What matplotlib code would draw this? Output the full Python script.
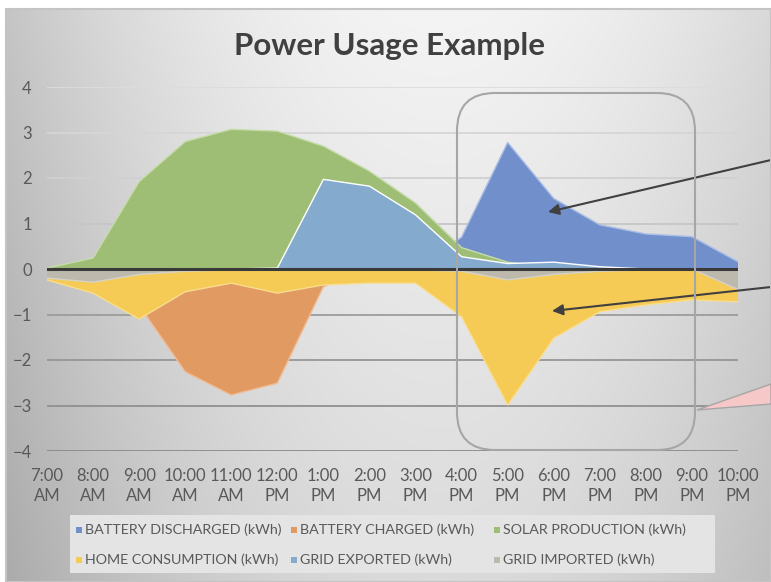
import numpy as np
import matplotlib
matplotlib.use("Agg")
import matplotlib.pyplot as plt
from matplotlib.patches import FancyBboxPatch, Polygon, Rectangle
from matplotlib.transforms import IdentityTransform

plt.rcParams['font.family'] = ['Lato', 'DejaVu Sans']

hours = ["7:00\nAM", "8:00\nAM", "9:00\nAM", "10:00\nAM", "11:00\nAM", "12:00\nPM",
         "1:00\nPM", "2:00\nPM", "3:00\nPM", "4:00\nPM", "5:00\nPM", "6:00\nPM",
         "7:00\nPM", "8:00\nPM", "9:00\nPM", "10:00\nPM"]

battery_discharged = [0, 0, 0, 0, 0, 0, 0, 0, 0, 0.7, 2.78, 1.55, 0.97, 0.77, 0.71, 0.16]
battery_charged = [0, 0, -0.8, -2.26, -2.77, -2.51, -0.39, 0, 0, 0, 0, 0, 0, 0, 0, 0]
solar_production = [0.02, 0.24, 1.92, 2.8, 3.07, 3.03, 2.7, 2.15, 1.45, 0.47, 0.15, 0.02, 0, 0, 0, 0]
home_consumption = [-0.24, -0.53, -1.1, -0.5, -0.31, -0.53, -0.35, -0.31, -0.31, -1.05, -2.99,
                    -1.52, -0.94, -0.79, -0.68, -0.72]
grid_exported = [0, 0, 0, 0, 0, 0.02, 1.97, 1.82, 1.19, 0.27, 0.12, 0.15, 0.05, 0, 0, 0]
grid_imported = [-0.2, -0.29, -0.12, -0.05, -0.02, -0.02, -0.02, -0.02, -0.02, -0.05, -0.24,
                 -0.12, -0.05, -0.02, 0, -0.45]

names = ["BATTERY DISCHARGED (kWh)", "BATTERY CHARGED (kWh)", "SOLAR PRODUCTION (kWh)",
         "HOME CONSUMPTION (kWh)", "GRID EXPORTED (kWh)", "GRID IMPORTED (kWh)"]
series = [battery_discharged, battery_charged, solar_production,
          home_consumption, grid_exported, grid_imported]
colors = ["#7190cb", "#e29a63", "#9dbe74", "#f5cb55", "#84aace", "#bdb9ac"]
edges = ["#a9bde6", "#efbd98", "#c6dcaa", "#f9dd8e", "#ffffff", "#d6d3c8"]

W, H = 771, 582
fig = plt.figure(figsize=(W / 100, H / 100), dpi=100)
fig.patch.set_facecolor("white")

# gradient background of the chart area
bg = fig.add_axes([6 / W, 0, 1 - 6 / W, (H - 9) / H])
gx = np.linspace(6, W, 300)
gy = np.linspace(9, H, 240)
GX, GY = np.meshgrid(gx, gy)
val = 244 - 42 * ((GX - 440) / 410) ** 2 - 26 * ((GY - 9) / (H - 9))
val = np.clip(val, 0, 255) / 255
bg.imshow(np.dstack([val, val, val]), aspect="auto", extent=[0, 1, 0, 1], origin="upper")
bg.set_axis_off()
fig.add_artist(Rectangle((6, 0), W - 6, H - 9, transform=IdentityTransform(),
                         facecolor="none", edgecolor="#c4c4c4", lw=1.5, zorder=2))

ax = fig.add_axes([47 / W, (H - 451) / H, (738 - 47) / W, (451 - 87) / H])
ax.set_facecolor("none")
x = np.arange(len(hours))

grid_cols = {4: "#dcdcdc", 3: "#d6d6d6", 2: "#d0d0d0", 1: "#c6c6c6",
             -1: "#9c9c9c", -2: "#969696", -3: "#909090", -4: "#8a8a8a"}
for g, c in grid_cols.items():
    ax.axhline(g, color=c, lw=1.3, zorder=0)

for i, (s, c, e) in enumerate(zip(series, colors, edges)):
    ax.fill_between(x, 0, s, facecolor=c, edgecolor="none", zorder=2 + i)
    ax.plot(x, s, color=e, lw=1.0, zorder=2.5 + i)

ax.axhline(0, color="#3a3a3a", lw=2.2, zorder=20)

ax.set_xlim(0, 15)
ax.set_ylim(-4, 4)
ax.set_xticks(x)
ax.set_xticklabels(hours, fontsize=12, color="#595959", linespacing=1.3)
ax.set_yticks(range(-4, 5))
ax.tick_params(axis="y", labelsize=12, colors="#595959", length=0, pad=11)
ax.tick_params(axis="x", length=0, pad=12, colors="#595959")
for sp in ax.spines.values():
    sp.set_visible(False)

fig.text(390 / W, 1 - 46 / H, "Power Usage Example", ha="center", va="center",
         fontsize=22.5, fontweight="bold", color="#404040")

# legend drawn by hand
fig.add_artist(Rectangle((70, H - 573), 645, 58, transform=IdentityTransform(),
                         facecolor="#e4e4e4", edgecolor="none", zorder=3))
col_x = [76, 291, 494]
row_y = [530, 560]
for i, (n, c) in enumerate(zip(names, colors)):
    cx = col_x[i % 3]
    cy = row_y[i // 3]
    fig.add_artist(Rectangle((cx, H - cy - 3), 6, 6, transform=IdentityTransform(),
                             facecolor=c, edgecolor="none", zorder=4))
    fig.text((cx + 9) / W, 1 - cy / H, n, ha="left", va="center",
             fontsize=10.3, color="#595959", zorder=4)

# callout box and arrows
fig.add_artist(FancyBboxPatch((457, H - 450), 238, 357,
                              boxstyle="round,pad=0,rounding_size=38",
                              transform=IdentityTransform(), facecolor="none",
                              edgecolor="#a6a6a6", lw=1.5, zorder=6))
fig.add_artist(Polygon([(697, H - 410), (771, H - 384), (771, H - 404)], closed=True,
                       transform=IdentityTransform(), facecolor="#f7c8c8",
                       edgecolor="#a6a6a6", lw=1, zorder=6))
for (x0, y0), (x1, y1) in [((771, 160), (548, 212)), ((771, 287), (552, 311))]:
    ax.annotate("", xy=(x1, H - y1), xycoords="figure pixels",
                xytext=(x0, H - y0), textcoords="figure pixels",
                arrowprops=dict(arrowstyle="-|>", color="#404040", lw=1.5,
                                mutation_scale=16, shrinkA=0, shrinkB=0),
                annotation_clip=False, zorder=30)

fig.savefig("out.png", dpi=100)
